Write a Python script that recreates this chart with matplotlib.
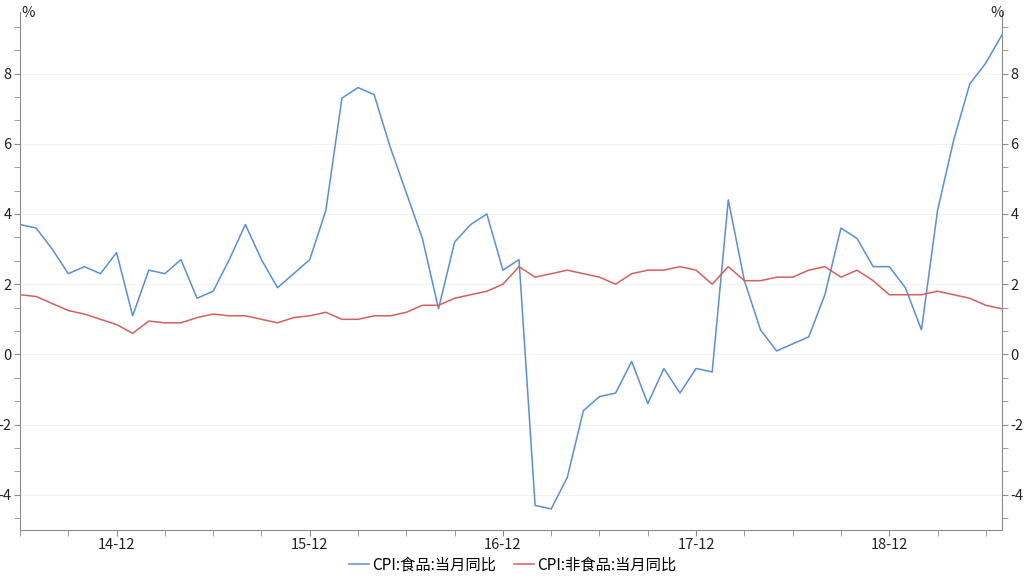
import matplotlib
matplotlib.use("Agg")
import matplotlib.pyplot as plt
from matplotlib.ticker import AutoMinorLocator, MultipleLocator
import numpy as np
import pandas as pd

plt.rcParams['font.family'] = ['Noto Sans CJK SC', 'DejaVu Sans']
plt.rcParams['axes.unicode_minus'] = False

# monthly data, 2014-06 .. 2019-07
months = pd.date_range('2014-06-01', periods=62, freq='MS')
food = [3.7, 3.6, 3.0, 2.3, 2.5, 2.3, 2.9, 1.1, 2.4, 2.3, 2.7, 1.6,
        1.8, 2.7, 3.7, 2.7, 1.9, 2.3, 2.7, 4.1, 7.3, 7.6, 7.4, 5.9,
        4.6, 3.3, 1.3, 3.2, 3.7, 4.0, 2.4, 2.7, -4.3, -4.4, -3.5, -1.6,
        -1.2, -1.1, -0.2, -1.4, -0.4, -1.1, -0.4, -0.5, 4.4, 2.1, 0.7, 0.1,
        0.3, 0.5, 1.7, 3.6, 3.3, 2.5, 2.5, 1.9, 0.7, 4.1, 6.1, 7.7,
        8.3, 9.1]
nonfood = [1.7, 1.65, 1.45, 1.25, 1.15, 1.0, 0.85, 0.6, 0.95, 0.9, 0.9, 1.05,
           1.15, 1.1, 1.1, 1.0, 0.9, 1.05, 1.1, 1.2, 1.0, 1.0, 1.1, 1.1,
           1.2, 1.4, 1.4, 1.6, 1.7, 1.8, 2.0, 2.5, 2.2, 2.3, 2.4, 2.3,
           2.2, 2.0, 2.3, 2.4, 2.4, 2.5, 2.4, 2.0, 2.5, 2.1, 2.1, 2.2,
           2.2, 2.4, 2.5, 2.2, 2.4, 2.1, 1.7, 1.7, 1.7, 1.8, 1.7, 1.6,
           1.4, 1.3]
labels = ['CPI:食品:当月同比', 'CPI:非食品:当月同比']

x = np.arange(len(months))

fig = plt.figure(figsize=(10.25, 5.8), dpi=100)
ax = fig.add_axes([0.0195, 0.0862, 0.958, 0.893])

ax.plot(x, food, color='#5B8ED6', lw=1.1, label=labels[0])
ax.plot(x, nonfood, color='#D5605E', lw=1.1, label=labels[1])

ax.set_xlim(0, len(x) - 1)
ax.set_ylim(-5, 9.75)
ax.yaxis.set_major_locator(MultipleLocator(2))
ax.yaxis.set_minor_locator(AutoMinorLocator(3))
ax.grid(axis='y', color='#f2f2f2', lw=0.8)
ax.set_axisbelow(True)

# x ticks: December labels, minor every quarter
dec = [i for i, m in enumerate(months) if m.month == 12]
ax.set_xticks(dec)
ax.set_xticklabels([m.strftime('%y-%m') for m in months[dec]])
ax.set_xticks(np.arange(0, len(x), 3), minor=True)

ax2 = ax.twinx()
ax2.set_ylim(ax.get_ylim())
ax2.yaxis.set_major_locator(MultipleLocator(2))
ax2.yaxis.set_minor_locator(AutoMinorLocator(3))

for a in (ax, ax2):
    for s in a.spines.values():
        s.set_color('#8c8c8c')
    a.spines['top'].set_visible(False)
    a.tick_params(which='both', color='#8c8c8c', length=4, labelsize=10.5,
                  labelcolor='#222222', pad=2)
ax2.spines['left'].set_visible(False)
ax2.spines['bottom'].set_visible(False)
ax.spines['right'].set_visible(False)

fig.text(0.021, 0.99, '%', fontsize=10.5, color='#222222', va='top')
fig.text(0.966, 0.99, '%', fontsize=10.5, color='#222222', va='top')

fig.legend(loc='lower center', bbox_to_anchor=(0.5, -0.012), ncol=2, frameon=False,
           fontsize=11, handlelength=1.3, handletextpad=0.2, columnspacing=1.2)

fig.savefig('out.png', dpi=100)
